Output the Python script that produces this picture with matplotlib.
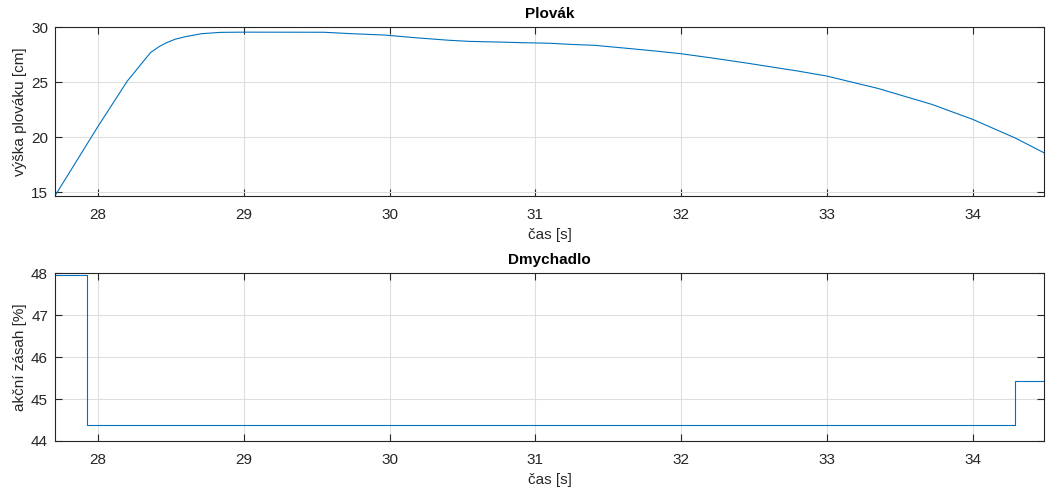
import matplotlib
matplotlib.use("Agg")
import matplotlib.pyplot as plt

# plovak
cas_plovak = [27.71, 28.0, 28.2, 28.36, 28.42, 28.47, 28.53, 28.6, 28.71, 28.84, 29.0,
              29.55, 29.74, 29.96, 30.05, 30.18, 30.41, 30.55, 30.75, 30.92, 31.1,
              31.24, 31.41, 31.63, 31.82, 32.0, 32.23, 32.46, 32.8, 33.0, 33.35,
              33.72, 34.0, 34.29, 34.49]
vyska = [14.8, 21.0, 25.1, 27.7, 28.25, 28.6, 28.92, 29.15, 29.42, 29.54, 29.56,
         29.55, 29.42, 29.3, 29.2, 29.05, 28.82, 28.72, 28.66, 28.6, 28.55,
         28.45, 28.36, 28.09, 27.85, 27.6, 27.18, 26.73, 26.03, 25.57, 24.45,
         23.0, 21.64, 19.96, 18.6]

# dmychadlo - step signal
cas_dmych = [27.705, 27.925, 34.29, 34.49]
zasah = [47.97, 44.37, 45.42, 45.42]

modra = "#0072BD"
seda = "#262626"

plt.rcParams["font.family"] = ["Liberation Sans", "DejaVu Sans"]
plt.rcParams["font.size"] = 10

fig = plt.figure(figsize=(10.46, 4.92), dpi=100)
ax1 = fig.add_axes([0.0526, 0.6022, 0.9455, 0.3423])
ax2 = fig.add_axes([0.0526, 0.1037, 0.9455, 0.3408])

ax1.plot(cas_plovak, vyska, color=modra, lw=0.8)
ax1.set_ylim(14.7, 29.97)
ax1.set_yticks([15, 20, 25, 30])
ax1.set_title("Plovák", fontweight="bold", fontsize=11, color="black", pad=7)
ax1.set_ylabel("výška plováku [cm]", color=seda, fontsize=11, labelpad=3)

ax2.plot(cas_dmych, zasah, color=modra, lw=0.8, drawstyle="steps-post")
ax2.set_ylim(44, 48)
ax2.set_yticks([44, 45, 46, 47, 48])
ax2.set_title("Dmychadlo", fontweight="bold", fontsize=11, color="black", pad=7)
ax2.set_ylabel("akční zásah [%]", color=seda, fontsize=11, labelpad=3)

for ax in (ax1, ax2):
    ax.set_xlim(27.705, 34.49)
    ax.set_xticks(range(28, 35))
    ax.set_xlabel("čas [s]", color=seda, fontsize=11, labelpad=4)
    ax.grid(True, color="#dfdfdf", lw=0.8)
    ax.set_axisbelow(True)
    ax.tick_params(direction="in", length=5, width=0.8, colors=seda,
                   top=True, right=True, labelsize=11)
    ax.tick_params(axis="x", pad=9)
    ax.tick_params(axis="y", pad=5)
    for s in ax.spines.values():
        s.set_color(seda)
        s.set_linewidth(0.8)

fig.savefig("out.png", dpi=100)
